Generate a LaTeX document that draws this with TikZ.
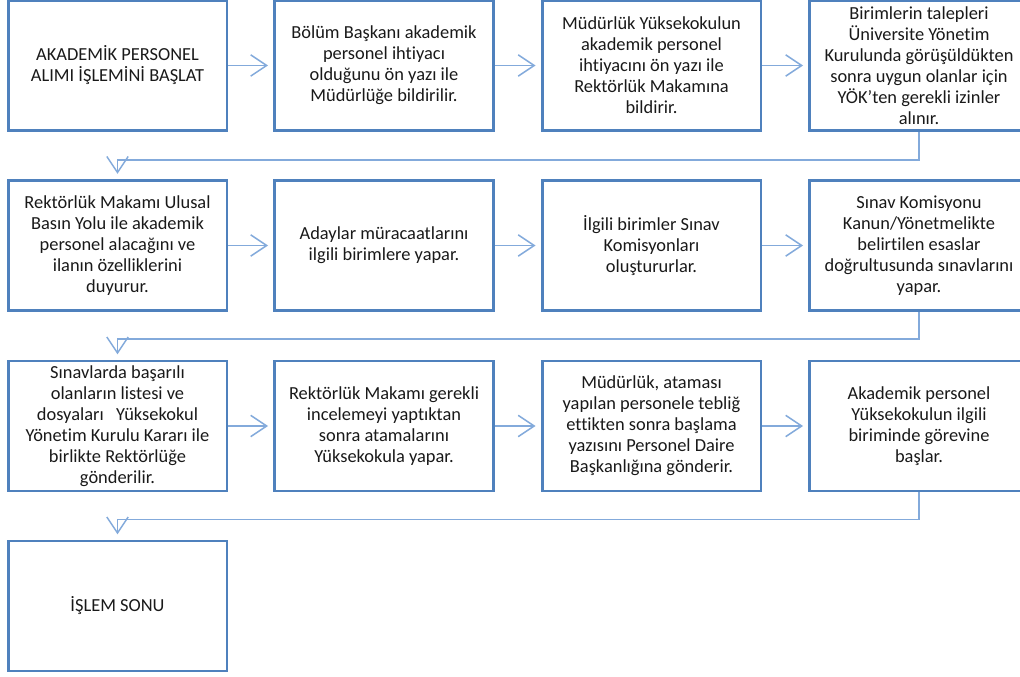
\documentclass[tikz,border=0pt]{standalone}
\usepackage{fontspec}
\setmainfont{Carlito}[Ligatures=NoCommon]
\usetikzlibrary{arrows.meta}
\definecolor{boxblue}{RGB}{79,129,189}
\definecolor{linkblue}{RGB}{131,170,219}
\begin{document}
\begin{tikzpicture}[x=0.75pt,y=-0.75pt,
  box/.style={draw=boxblue,line width=2pt,minimum width=164pt,minimum height=97.5pt,
    align=center,inner sep=0pt,text=black!90,font=\fontsize{13.8}{15.75}\selectfont},
  link/.style={draw=linkblue,line width=1.1pt,-{Straight Barb[length=12pt,width=16pt]},shorten >=4pt}]
\useasboundingbox (0,0) rectangle (1020,677);
% row 1
\node[box] (a1) at (117.5,65.5) {AKADEMİK PERSONEL\\ALIMI İŞLEMİNİ BAŞLAT};
\node[box] (a2) at (384,65.5) {Bölüm Başkanı akademik\\personel ihtiyacı\\olduğunu ön yazı ile\\Müdürlüğe bildirilir.};
\node[box] (a3) at (651.5,65.5) {Müdürlük Yüksekokulun\\akademik personel\\ihtiyacını ön yazı ile\\Rektörlük Makamına\\bildirir.};
\node[box] (a4) at (919,65.5) {Birimlerin talepleri\\Üniversite Yönetim\\Kurulunda görüşüldükten\\sonra uygun olanlar için\\YÖK’ten gerekli izinler\\alınır.};
% row 2
\node[box] (b1) at (117.5,245.5) {Rektörlük Makamı Ulusal\\Basın Yolu ile akademik\\personel alacağını ve\\ilanın özelliklerini\\duyurur.};
\node[box] (b2) at (384,245.5) {Adaylar müracaatlarını\\ilgili birimlere yapar.};
\node[box] (b3) at (651.5,245.5) {İlgili birimler Sınav\\Komisyonları\\oluştururlar.};
\node[box] (b4) at (919,245.5) {Sınav Komisyonu\\Kanun/Yönetmelikte\\belirtilen esaslar\\doğrultusunda sınavlarını\\yapar.};
% row 3
\node[box] (c1) at (117.5,426) {Sınavlarda başarılı\\olanların listesi ve\\dosyaları\ \ \ Yüksekokul\\Yönetim Kurulu Kararı ile\\birlikte Rektörlüğe\\gönderilir.};
\node[box] (c2) at (384,426) {Rektörlük Makamı gerekli\\incelemeyi yaptıktan\\sonra atamalarını\\Yüksekokula yapar.};
\node[box] (c3) at (651.5,426) {Müdürlük, ataması\\yapılan personele tebliğ\\ettikten sonra başlama\\yazısını Personel Daire\\Başkanlığına gönderir.};
\node[box] (c4) at (919,426) {Akademik personel\\Yüksekokulun ilgili\\biriminde görevine\\başlar.};
% row 4
\node[box] (d1) at (117.5,606) {İŞLEM SONU};
% connectors
\draw[link] (a1) -- (a2);
\draw[link] (a2) -- (a3);
\draw[link] (a3) -- (a4);
\draw[link] (a4.south) -- ++(0,28) -| (b1.north);
\draw[link] (b1) -- (b2);
\draw[link] (b2) -- (b3);
\draw[link] (b3) -- (b4);
\draw[link] (b4.south) -- ++(0,27) -| (c1.north);
\draw[link] (c1) -- (c2);
\draw[link] (c2) -- (c3);
\draw[link] (c3) -- (c4);
\draw[link] (c4.south) -- ++(0,27) -| (d1.north);
\end{tikzpicture}
\end{document}
